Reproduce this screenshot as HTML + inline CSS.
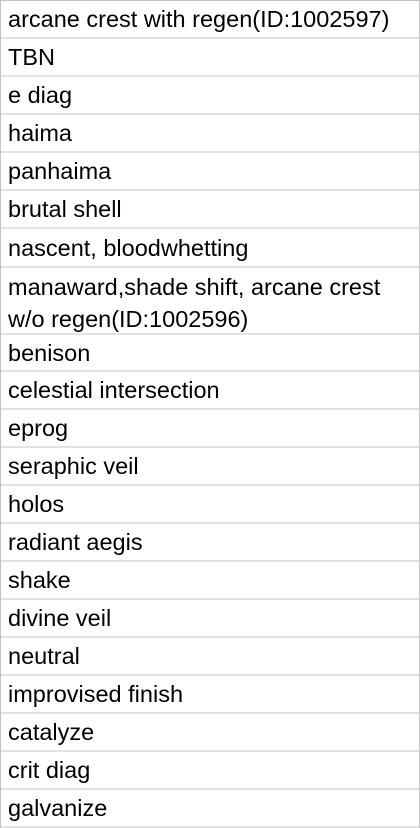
<!DOCTYPE html>
<html><head><meta charset="utf-8"><style>
html,body{margin:0;padding:0;background:#fff;width:420px;height:828px;overflow:hidden}
.t{position:absolute;left:0;top:0;width:420px;height:828px;border-left:1px solid #c4c4c4;border-right:1px solid #c4c4c4;border-top:1px solid #c4c4c4;box-sizing:border-box}
.r{position:absolute;left:0;width:418px;border-bottom:2px solid #e2e2e2;box-sizing:border-box;display:flex;align-items:center;padding-left:7px;font-family:"Liberation Sans",Arial,sans-serif;font-size:23.5px;color:#000;line-height:32px;white-space:nowrap}
</style></head><body><div class="t">
<div class="r" style="top:0;height:38px">arcane crest with regen(ID:1002597)</div>
<div class="r" style="top:38px;height:38px">TBN</div>
<div class="r" style="top:76px;height:38px">e diag</div>
<div class="r" style="top:114px;height:38px">haima</div>
<div class="r" style="top:152px;height:38px">panhaima</div>
<div class="r" style="top:190px;height:38px">brutal shell</div>
<div class="r" style="top:228px;height:39px">nascent, bloodwhetting</div>
<div class="r" style="top:267px;height:67px;padding-top:4px">manaward,shade shift, arcane crest<br>w/o regen(ID:1002596)</div>
<div class="r" style="top:334px;height:37px">benison</div>
<div class="r" style="top:371px;height:38px">celestial intersection</div>
<div class="r" style="top:409px;height:38px">eprog</div>
<div class="r" style="top:447px;height:38px">seraphic veil</div>
<div class="r" style="top:485px;height:38px">holos</div>
<div class="r" style="top:523px;height:38px">radiant aegis</div>
<div class="r" style="top:561px;height:38px">shake</div>
<div class="r" style="top:599px;height:38px">divine veil</div>
<div class="r" style="top:637px;height:38px">neutral</div>
<div class="r" style="top:675px;height:38px">improvised finish</div>
<div class="r" style="top:713px;height:38px">catalyze</div>
<div class="r" style="top:751px;height:38px">crit diag</div>
<div class="r" style="top:789px;height:38px">galvanize</div>
</div></body></html>
